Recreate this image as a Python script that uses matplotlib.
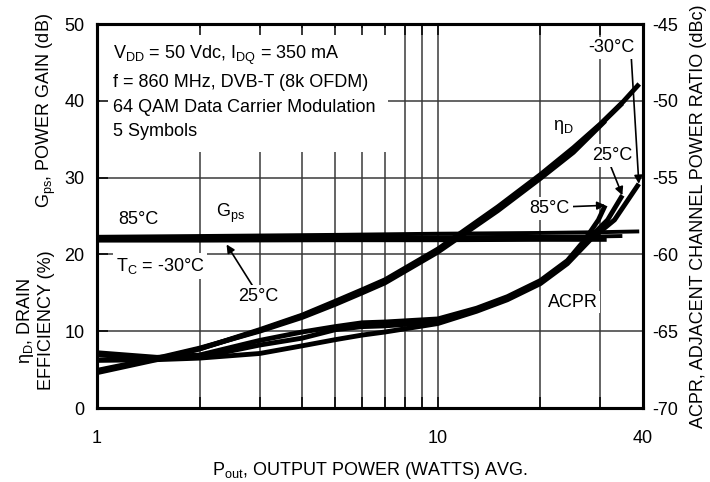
import matplotlib
matplotlib.use("Agg")
import matplotlib.pyplot as plt
from matplotlib import font_manager

# condensed Helvetica-like font if it is there
names = set(f.name for f in font_manager.fontManager.ttflist)
if "Liberation Sans Narrow" in names:
    fam = "Liberation Sans Narrow"
else:
    fam = "Liberation Sans"
plt.rcParams["font.family"] = [fam, "DejaVu Sans"]
plt.rcParams["mathtext.default"] = "regular"
plt.rcParams["axes.unicode_minus"] = False

# drain efficiency (%)
eff_p_m30 = [1, 1.5, 2, 3, 4, 5, 6, 7, 10, 15, 20, 25, 30, 35, 39]
eff_m30 = [4.6, 6.3, 7.7, 10.2, 12.1, 13.9, 15.4, 16.7, 20.7, 26.2, 30.4, 33.9, 37.0, 39.9, 42.2]
eff_p_25 = [1, 1.5, 2, 3, 4, 5, 6, 7, 10, 15, 20, 25, 30, 34.8]
eff_25 = [4.8, 6.4, 7.7, 10.1, 12.0, 13.7, 15.2, 16.5, 20.5, 26.0, 30.2, 33.7, 36.9, 39.7]
eff_p_85 = [1, 1.5, 2, 3, 4, 5, 6, 7, 10, 15, 20, 25, 31]
eff_85 = [4.9, 6.5, 7.8, 10.0, 11.8, 13.5, 15.0, 16.3, 20.3, 25.7, 29.9, 33.3, 37.4]

# power gain (dB)
gps_p_m30 = [1, 2, 5, 10, 20, 30, 39]
gps_m30 = [22.3, 22.4, 22.55, 22.7, 22.8, 22.9, 23.0]
gps_p_25 = [1, 2, 5, 10, 20, 30, 34.8]
gps_25 = [22.05, 22.1, 22.2, 22.25, 22.3, 22.35, 22.4]
gps_p_85 = [1, 2, 5, 10, 20, 31.3]
gps_85 = [21.8, 21.8, 21.85, 21.85, 21.9, 21.9]

# ACPR (dBc)
acpr_p_85 = [1, 1.5, 2, 3, 4, 5, 6, 7, 10, 13, 16, 20, 24, 27, 29.6, 31]
acpr_85 = [-66.4, -66.7, -66.55, -65.6, -65.05, -64.7, -64.45, -64.4, -64.2, -63.5, -62.75, -61.7, -60.4, -59.05, -57.75, -56.8]
acpr_p_25 = [1, 1.5, 2, 3, 4, 5, 6, 7, 10, 13, 16, 20, 24, 27.5, 31.5, 34.8]
acpr_25 = [-66.55, -66.75, -66.7, -65.9, -65.45, -64.9, -64.7, -64.65, -64.4, -63.6, -62.85, -61.8, -60.5, -59.05, -57.75, -56.15]
acpr_p_m30 = [1, 1.5, 2, 3, 4, 5, 6, 7, 10, 13, 16, 20, 24, 28, 33, 38.9]
acpr_m30 = [-66.9, -66.85, -66.75, -66.45, -65.95, -65.55, -65.25, -65.05, -64.5, -63.7, -62.95, -61.9, -60.6, -59.05, -57.75, -55.4]

x_major = [1, 10, 40]
x_minor = [2, 3, 4, 5, 6, 7, 8, 9, 20, 30]
y_left = [0, 10, 20, 30, 40, 50]
y_right = [-70, -65, -60, -55, -50, -45]

fs = 13
fig = plt.figure(figsize=(7.1, 4.82), dpi=100)
ax = fig.add_axes([0.1366, 0.1535, 0.769, 0.7965])
ax2 = ax.twinx()

ax.set_xscale("log")
ax.set_xlim(1, 40)
ax.set_ylim(0, 50)
ax2.set_ylim(-70, -45)

# grid drawn by hand so the white text boxes can sit on top of it
for g in x_minor + [10]:
    ax.axvline(g, color="#3a3a3a", lw=1.1, zorder=0.5)
for g in y_left[1:-1]:
    ax.axhline(g, color="#3a3a3a", lw=1.1, zorder=0.5)

lw = 3.5
for p, v in [(eff_p_m30, eff_m30), (eff_p_25, eff_25), (eff_p_85, eff_85)]:
    ax.plot(p, v, color="black", lw=lw, solid_capstyle="butt", zorder=3)
for p, v in [(gps_p_m30, gps_m30), (gps_p_25, gps_25), (gps_p_85, gps_85)]:
    ax.plot(p, v, color="black", lw=2.8, solid_capstyle="butt", zorder=3)
for p, v in [(acpr_p_85, acpr_85), (acpr_p_25, acpr_25), (acpr_p_m30, acpr_m30)]:
    ax2.plot(p, v, color="black", lw=lw, solid_capstyle="butt", zorder=3)

ax.set_xticks(x_major)
ax.set_xticklabels([str(t) for t in x_major])
ax.set_xticks(x_minor, minor=True)
ax.set_xticklabels([], minor=True)
ax.set_yticks(y_left)
ax2.set_yticks(y_right)
ax2.set_yticklabels([str(t) for t in y_right])

ax.tick_params(axis="x", which="both", direction="in", length=8, width=1.1, pad=16,
               labelsize=fs, top=True)
ax.tick_params(axis="y", direction="in", length=8, width=1.1, pad=9, labelsize=fs)
ax2.tick_params(axis="y", direction="in", length=0, pad=7, labelsize=fs)
ax.set_axisbelow(False)

for a in (ax, ax2):
    for s in a.spines.values():
        s.set_linewidth(2.2)

box = dict(facecolor="white", edgecolor="none", pad=2)

ax.text(0.029, 0.948,
        "V$_{DD}$ = 50 Vdc, I$_{DQ}$ = 350 mA\nf = 860 MHz, DVB-T (8k OFDM)\n"
        "64 QAM Data Carrier Modulation\n5 Symbols",
        transform=ax.transAxes, ha="left", va="top", fontsize=fs, linespacing=1.55,
        bbox=dict(facecolor="white", edgecolor="none", pad=9), zorder=1)

ax.text(2.47, 25.4, "G$_{ps}$", ha="center", va="center", fontsize=fs, zorder=1)
ax.text(1.32, 24.5, "85°C", ha="center", va="center", fontsize=fs, zorder=1)
ax.text(1.53, 18.5, "T$_C$ = -30°C", ha="center", va="center", fontsize=fs, bbox=box, zorder=1)
ax.annotate("25°C", xy=(2.4, 21.3), xytext=(2.97, 14.5), ha="center", va="center",
            fontsize=fs, bbox=box, zorder=1,
            arrowprops=dict(arrowstyle="-|>", color="black", lw=1.2, mutation_scale=12,
                            shrinkA=0, shrinkB=0, relpos=(0.4, 1.0)))
ax.text(23.4, 36.6, "η$_D$", ha="center", va="center", fontsize=fs, zorder=1)
ax.text(24.9, 13.8, "ACPR", ha="center", va="center", fontsize=fs, bbox=box, zorder=1)

arrow = dict(arrowstyle="-|>", color="black", lw=1.2, mutation_scale=12, shrinkA=0, shrinkB=0)
ax2.annotate("-30°C", xy=(acpr_p_m30[-1], acpr_m30[-1]), xytext=(32.4, -46.55),
             textcoords="data", ha="center", va="center", fontsize=fs, bbox=box, zorder=1,
             arrowprops=dict(arrow, relpos=(0.92, 0.0)))
ax2.annotate("25°C", xy=(acpr_p_25[-1], acpr_25[-1]), xytext=(32.4, -53.55),
             ha="center", va="center", fontsize=fs, bbox=box, zorder=1,
             arrowprops=dict(arrow, relpos=(0.45, 0.0)))
ax2.annotate("85°C", xy=(acpr_p_85[-1], acpr_85[-1]), xytext=(21.3, -57.0),
             ha="center", va="center", fontsize=fs, bbox=box, zorder=1,
             arrowprops=dict(arrow, relpos=(1.0, 0.6)))

ax.set_xlabel("P$_{out}$, OUTPUT POWER (WATTS) AVG.", fontsize=fs, labelpad=9)
ax2.set_ylabel("ACPR, ADJACENT CHANNEL POWER RATIO (dBc)", fontsize=fs, labelpad=8)
fig.text(0.065, 0.77, "G$_{ps}$, POWER GAIN (dB)", rotation=90, ha="center", va="center", fontsize=fs)
fig.text(0.049, 0.335, "η$_D$, DRAIN\nEFFICIENCY (%)", rotation=90, ha="center", va="center",
         fontsize=fs, linespacing=1.15)

fig.savefig("out.png", dpi=100)
